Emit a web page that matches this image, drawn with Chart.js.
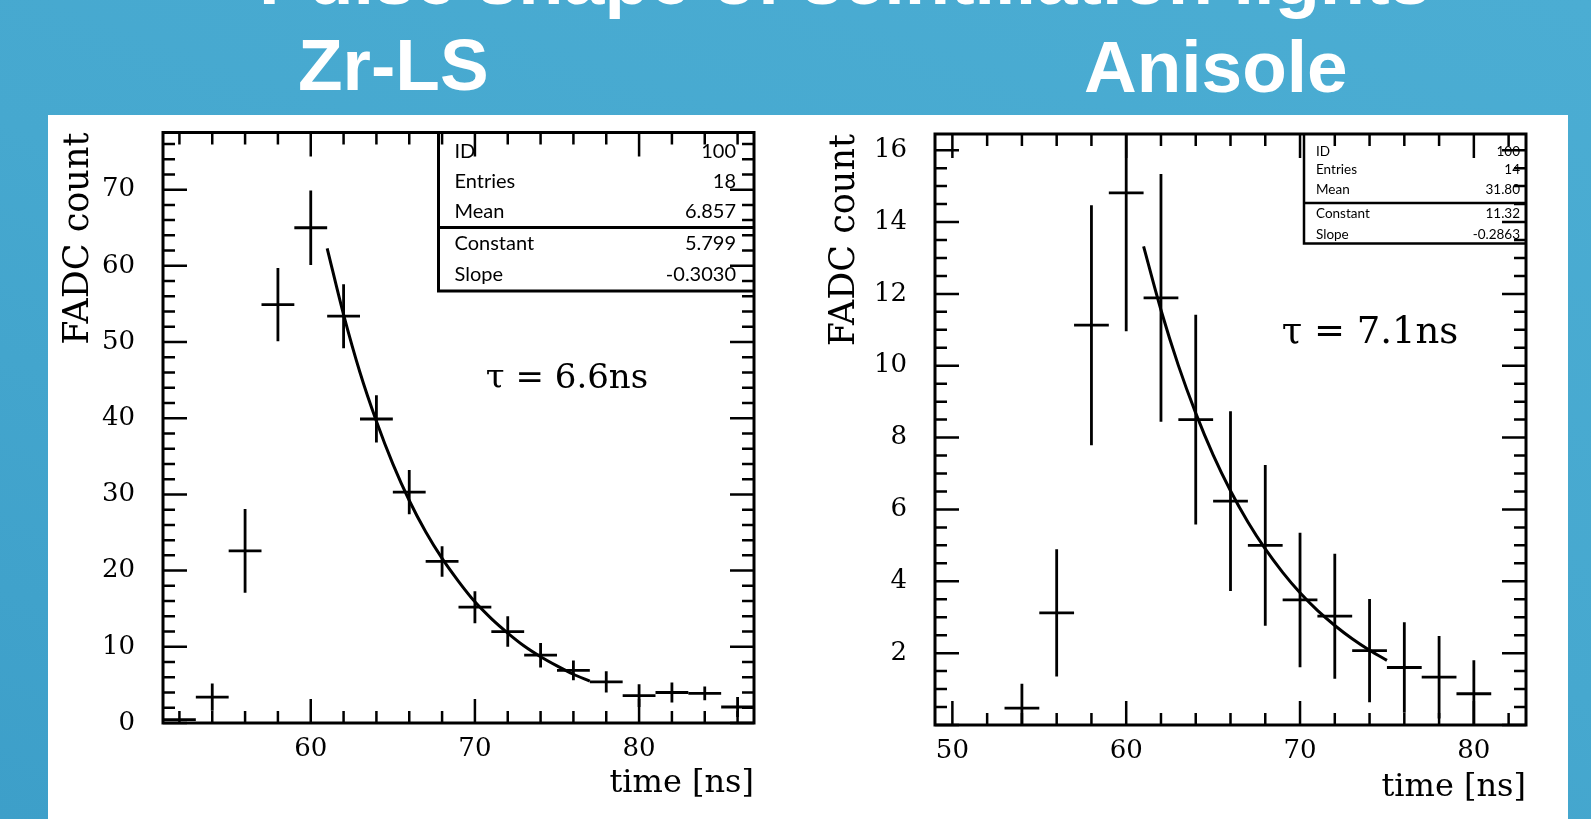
<!DOCTYPE html>
<html>
<head>
<meta charset="utf-8">
<script src="https://cdn.jsdelivr.net/npm/chart.js@4.4.0/dist/chart.umd.min.js"></script>
<style>
  body { margin:0; width:1591px; height:819px; overflow:hidden; position:relative;
         background: linear-gradient(200deg, #4badd3 0%, #46a8cf 50%, #3d9fc9 100%); }
  #panel { position:absolute; left:48px; top:115px; width:1520px; height:704px; background:#fff; }
  .head { position:absolute; color:#fff; font-family:"Liberation Sans", Arial, sans-serif; font-weight:bold;
          font-size:73px; line-height:1; white-space:nowrap; }
  canvas { position:absolute; }
</style>
</head>
<body>
<div class="head" style="left:259px; top:-58px; font-size:74px;">Pulse shape of scintillation lights</div>
<div class="head" style="left:298px; top:28px;">Zr-LS</div>
<div class="head" style="left:1084px; top:30px;">Anisole</div>
<div id="panel"></div>
<canvas id="zrChart" width="742" height="704" style="left:48px; top:115px;"></canvas>
<canvas id="anChart" width="773" height="704" style="left:795px; top:115px;"></canvas>
<script>
// Zr-LS histogram (bin centre, content, error)
const zrTime  = [52, 54, 56, 58, 60, 62, 64, 66, 68, 70, 72, 74, 76, 78, 80, 82, 84, 86];
const zrCount = [0.45, 3.4, 22.6, 54.9, 65.0, 53.4, 39.9, 30.3, 21.2, 15.2, 12.0, 8.9, 6.9, 5.4, 3.6, 4.0, 3.9, 2.1];
const zrErr   = [0, 1.8, 5.5, 4.8, 4.9, 4.2, 3.1, 2.9, 2.0, 2.1, 2.0, 1.6, 1.3, 1.4, 1.5, 1.3, 0.9, 1.3];
// exponential fit
const zrFitTime  = [61, 62, 63, 64, 65, 66, 67, 68, 69, 70, 71, 72, 73, 74, 75, 76, 77];
const zrFitCount = [62.3, 53.6, 46.0, 39.6, 34.0, 29.2, 25.1, 21.6, 18.6, 15.9, 13.7, 11.8, 10.1, 8.7, 7.5, 6.4, 5.5];
const zrTicksX = [60, 70, 80];
const zrTicksY = [0, 10, 20, 30, 40, 50, 60, 70];
const zrStats = [['ID', '100'], ['Entries', '18'], ['Mean', '6.857'], ['Constant', '5.799'], ['Slope', '-0.3030']];

// Anisole histogram
const anTime  = [54, 56, 58, 60, 62, 64, 66, 68, 70, 72, 74, 76, 78, 80];
const anCount = [0.47, 3.12, 11.13, 14.81, 11.89, 8.5, 6.23, 5.0, 3.48, 3.03, 2.07, 1.6, 1.33, 0.87];
const anErr   = [0.68, 1.77, 3.34, 3.85, 3.45, 2.92, 2.5, 2.24, 1.87, 1.74, 1.44, 1.26, 1.15, 0.93];
const anFitTime  = [61, 62, 63, 64, 65, 66, 67, 68, 69, 70, 71, 72, 73, 74, 75];
const anFitCount = [13.32, 11.55, 10.01, 8.68, 7.52, 6.52, 5.65, 4.90, 4.25, 3.68, 3.19, 2.77, 2.40, 2.08, 1.80];
const anTicksX = [50, 60, 70, 80];
const anTicksY = [2, 4, 6, 8, 10, 12, 14, 16];
const anStats = [['ID', '100'], ['Entries', '14'], ['Mean', '31.80'], ['Constant', '11.32'], ['Slope', '-0.2863']];

const SERIF = '"DejaVu Serif", "Liberation Serif", serif';

// draws the ROOT look: error crosses, frame, ticks on all sides, stats box, tau label
const rootFrame = {
  id: 'rootFrame',
  afterDatasetsDraw(chart, args, o) {
    const {ctx, chartArea: a, scales: {x, y}} = chart;
    ctx.save();
    ctx.strokeStyle = '#000';
    ctx.lineCap = 'butt';

    // error bars, clipped to the frame
    ctx.save();
    ctx.beginPath();
    ctx.rect(a.left, a.top, a.right - a.left, a.bottom - a.top);
    ctx.clip();
    ctx.lineWidth = 2.8;
    const pts = chart.getDatasetMeta(1).data;
    pts.forEach((p, i) => {
      const t = o.time[i], v = o.count[i], e = o.err[i];
      ctx.beginPath();
      ctx.moveTo(x.getPixelForValue(t - 1), p.y);
      ctx.lineTo(x.getPixelForValue(t + 1), p.y);
      if (e > 0) {
        ctx.moveTo(p.x, y.getPixelForValue(Math.max(v - e, y.min)));
        ctx.lineTo(p.x, y.getPixelForValue(v + e));
      }
      ctx.stroke();
    });
    ctx.restore();

    // ticks
    ctx.lineWidth = 2.5;
    const tickSet = (scale, minor, major, horiz) => {
      const k0 = Math.ceil(scale.min / minor - 1e-9), k1 = Math.floor(scale.max / minor + 1e-9);
      for (let k = k0; k <= k1; k++) {
        const v = k * minor;
        const isMaj = Math.abs(v / major - Math.round(v / major)) < 1e-6;
        const len = isMaj ? 24 : 12;
        const p = scale.getPixelForValue(v);
        ctx.beginPath();
        if (horiz) {
          ctx.moveTo(p, a.bottom); ctx.lineTo(p, a.bottom - len);
          ctx.moveTo(p, a.top); ctx.lineTo(p, a.top + len);
        } else {
          ctx.moveTo(a.left, p); ctx.lineTo(a.left + len, p);
          ctx.moveTo(a.right, p); ctx.lineTo(a.right - len, p);
        }
        ctx.stroke();
      }
    };
    tickSet(x, o.xMinor, o.xMajor, true);
    tickSet(y, o.yMinor, o.yMajor, false);

    // frame
    ctx.lineWidth = 3;
    ctx.strokeRect(a.left, a.top, a.right - a.left, a.bottom - a.top);

    // stats box
    const b = o.box;
    const bl = a.right - b.w;
    ctx.lineWidth = b.lw;
    ctx.beginPath();
    ctx.moveTo(bl, a.top); ctx.lineTo(bl, a.top + b.h);
    ctx.lineTo(a.right, a.top + b.h);
    ctx.moveTo(bl, a.top + b.sep); ctx.lineTo(a.right, a.top + b.sep);
    ctx.stroke();
    ctx.fillStyle = '#000';
    ctx.font = b.font + 'px Lato, "Open Sans", sans-serif';
    ctx.textBaseline = 'middle';
    o.stats.forEach((s, i) => {
      ctx.textAlign = 'left';
      ctx.fillText(s[0], bl + b.padL, a.top + b.rows[i]);
      ctx.textAlign = 'right';
      ctx.fillText(s[1], a.right - b.padR, a.top + b.rows[i]);
    });

    // tau label
    ctx.font = o.tau.size + 'px ' + SERIF;
    ctx.textAlign = 'center';
    ctx.textBaseline = 'alphabetic';
    ctx.fillText(o.tau.text, a.left + o.tau.dx, a.top + o.tau.dy);
    ctx.restore();
  }
};

function makeChart(id, c) {
  return new Chart(document.getElementById(id), {
    type: 'scatter',
    data: {
      datasets: [
        { data: c.fitTime.map((t, i) => ({x: t, y: c.fitCount[i]})), showLine: true,
          borderColor: '#000', borderWidth: 3, pointRadius: 0, cubicInterpolationMode: 'monotone', fill: false },
        { data: c.time.map((t, i) => ({x: t, y: c.count[i]})), pointRadius: 0, showLine: false }
      ]
    },
    options: {
      responsive: false, animation: false, devicePixelRatio: 1,
      layout: { padding: c.pad },
      plugins: {
        legend: { display: false }, tooltip: { enabled: false },
        rootFrame: c.frame
      },
      scales: {
        x: {
          type: 'linear', min: c.xMin, max: c.xMax,
          afterFit: s => { s.height = c.xAxisH; s.paddingLeft = 0; s.paddingRight = 0; },
          afterBuildTicks: s => { s.ticks = c.ticksX.map(v => ({value: v})); },
          grid: { display: false, drawTicks: false }, border: { display: false },
          ticks: { color: '#000', font: { family: SERIF, size: 26 }, padding: 11, maxRotation: 0, autoSkip: false },
          title: { display: true, text: 'time [ns]', align: 'end', color: '#000',
                   font: { family: SERIF, size: 32 }, padding: { top: 0, bottom: c.xTitlePad } }
        },
        y: {
          type: 'linear', min: c.yMin, max: c.yMax,
          afterFit: s => { s.width = c.yAxisW; s.paddingTop = 0; s.paddingBottom = 0; },
          afterBuildTicks: s => { s.ticks = c.ticksY.map(v => ({value: v})); },
          grid: { display: false, drawTicks: false }, border: { display: false },
          ticks: { color: '#000', font: { family: SERIF, size: 26 }, padding: 28, autoSkip: false },
          title: { display: true, text: 'FADC count', align: 'end', color: '#000',
                   font: { family: SERIF, size: 35 }, padding: { top: c.yTitlePad, bottom: 0 } }
        }
      }
    },
    plugins: [rootFrame]
  });
}

makeChart('zrChart', {
  time: zrTime, count: zrCount, fitTime: zrFitTime, fitCount: zrFitCount,
  ticksX: zrTicksX, ticksY: zrTicksY,
  xMin: 51, xMax: 87, yMin: 0, yMax: 77.5,
  pad: { left: 0, top: 17.5, right: 36, bottom: 0 },
  xAxisH: 96, yAxisW: 115, xTitlePad: 16, yTitlePad: 10,
  frame: {
    time: zrTime, count: zrCount, err: zrErr, stats: zrStats,
    xMinor: 2, xMajor: 10, yMinor: 2, yMajor: 10,
    box: { w: 315.5, h: 158.5, sep: 95, lw: 3, font: 20, padL: 16, padR: 18, rows: [19, 49, 79, 111.5, 142.5] },
    tau: { text: 'τ = 6.6ns', size: 34, dx: 404, dy: 255 }
  }
});

makeChart('anChart', {
  time: anTime, count: anCount, fitTime: anFitTime, fitCount: anFitCount,
  ticksX: anTicksX, ticksY: anTicksY,
  xMin: 49, xMax: 83, yMin: 0, yMax: 16.45,
  pad: { left: 0, top: 19, right: 42, bottom: 0 },
  xAxisH: 94, yAxisW: 140, xTitlePad: 12, yTitlePad: 29,
  frame: {
    time: anTime, count: anCount, err: anErr, stats: anStats,
    xMinor: 2, xMajor: 10, yMinor: 0.5, yMajor: 2,
    box: { w: 222, h: 109.5, sep: 69, lw: 2.5, font: 13.5, padL: 12, padR: 6, rows: [18, 35.5, 56, 80, 100.5] },
    tau: { text: 'τ = 7.1ns', size: 37, dx: 435, dy: 209 }
  }
});
</script>
</body>
</html>
